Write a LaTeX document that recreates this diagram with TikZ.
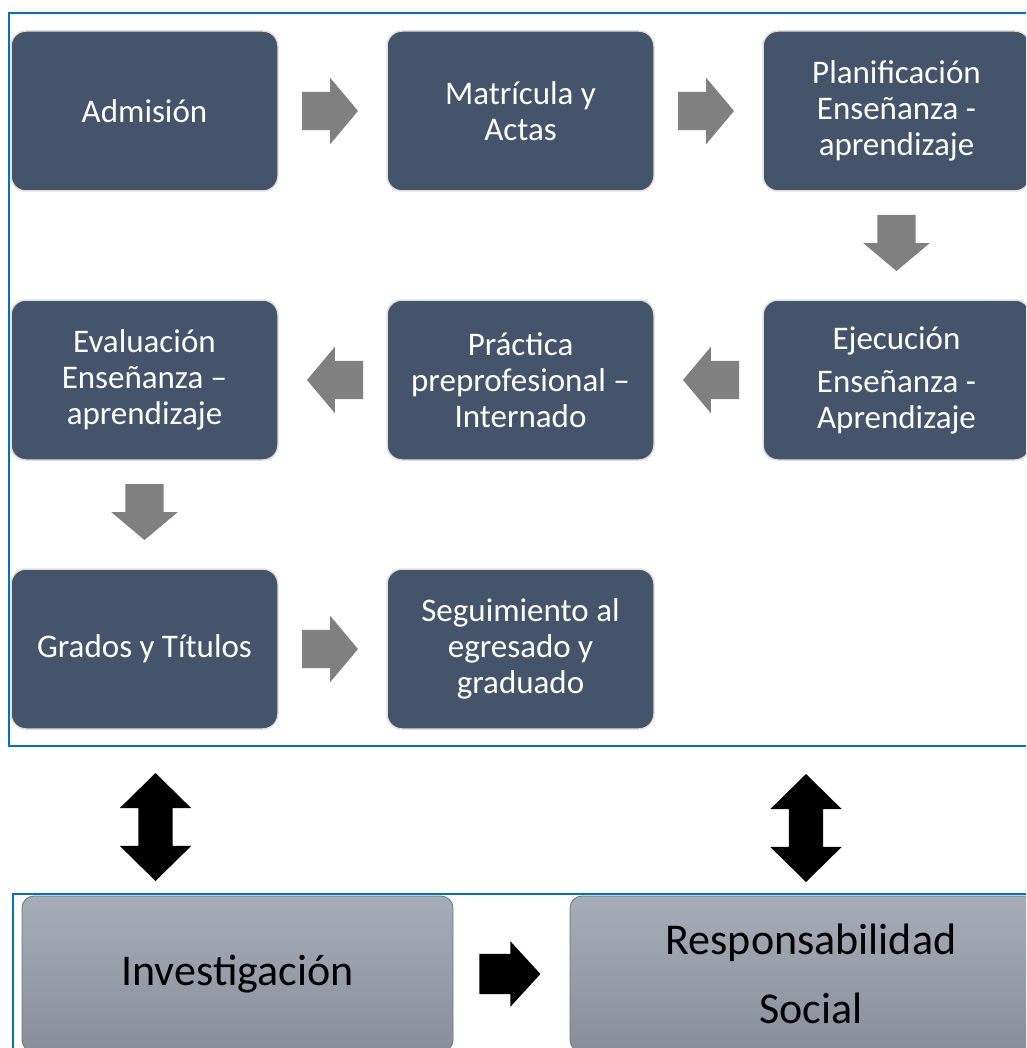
\documentclass[tikz,border=0pt]{standalone}
\usepackage{fontspec}
\setmainfont{Carlito}
\usetikzlibrary{positioning,shapes.arrows,calc}
\definecolor{boxcol}{HTML}{44546A}
\definecolor{framecol}{HTML}{0070C0}
\definecolor{arrcol}{HTML}{808080}
\definecolor{ejetop}{HTML}{A7ADB7}
\definecolor{ejebot}{HTML}{898E9A}
\begin{document}
\begin{tikzpicture}[x=1pt, y=-1pt, node distance=109pt,
  proc/.style={draw=gray!25, line width=1.5pt, fill=boxcol, rounded corners=15pt,
    minimum width=267pt, minimum height=160pt, outer sep=0pt, text=white,
    align=center, font=\fontsize{33}{36}\selectfont},
  eje/.style={draw=black!55, line width=0.8pt, top color=ejetop, bottom color=ejebot,
    rounded corners=12pt, minimum height=156pt, align=center,
    font=\fontsize{44}{69}\selectfont},
  garrow/.style={single arrow, fill=arrcol, inner xsep=0pt, inner ysep=19pt, outer sep=0pt,
    minimum height=56pt, single arrow head extend=14pt,
    single arrow tip angle=100, anchor=tail},
  barrow/.style={single arrow, fill=black, inner xsep=0pt, inner ysep=20pt, outer sep=0pt,
    minimum height=61pt, single arrow head extend=12.5pt,
    single arrow tip angle=95, anchor=tail},
  darrow/.style={double arrow, fill=black, inner xsep=0pt, inner ysep=17pt, outer sep=0pt,
    minimum height=108pt, double arrow head extend=18.5pt,
    double arrow tip angle=91, rotate=90}]
\useasboundingbox (0,0) rectangle (1026,1048);
\clip (0,0) rectangle (1026,1048);
\fill[white] (0,0) rectangle (1026,1048);

% frames
\draw[framecol, line width=1.5pt] (9,13) rectangle (1040,746);
\draw[framecol, line width=1.5pt] (13,894) rectangle (1040,1060);

% process boxes
\node[proc] (adm) at (144.5,111) {Admisión};
\node[proc, right=of adm] (mat) {Matrícula y\\Actas};
\node[proc, right=of mat] (plan) {Planificación\\Enseñanza -\\aprendizaje};
\node[proc, below=of plan] (ejec) {Ejecución\\[7pt]Enseñanza -\\Aprendizaje};
\node[proc, left=of ejec] (prac) {Práctica\\preprofesional –\\Internado};
\node[proc, left=of prac] (eval) {Evaluación\\Enseñanza –\\aprendizaje};
\node[proc, below=of eval] (grad) {Grados y Títulos};
\node[proc, right=of grad] (seg) {Seguimiento al\\egresado y\\graduado};

% gray arrows
\node[garrow] (g1) at ($(adm.east)!24pt!(mat.west)$) {};
\node[garrow] (g2) at ($(mat.east)!24pt!(plan.west)$) {};
\node[garrow, rotate=-90] (g3) at ($(plan.south)!24pt!(ejec.north)$) {};
\node[garrow, rotate=180] (g4) at ($(ejec.west)!24pt!(prac.east)$) {};
\node[garrow, rotate=180] (g5) at ($(prac.west)!24pt!(eval.east)$) {};
\node[garrow, rotate=-90] (g6) at ($(eval.south)!24pt!(grad.north)$) {};
\node[garrow] (g7) at ($(grad.east)!24pt!(seg.west)$) {};

% axes
\node[eje, minimum width=431pt] (inv) at (237.5,974) {Investigación};
\node[eje, minimum width=482pt] (resp) at (811,974) {Responsabilidad\\Social};
\node[barrow] (b1) at ($(inv.east)!26pt!(resp.west)$) {};

% links
\node[darrow] (d1) at (155.5,827) {};
\node[darrow] (d2) at (806,828) {};
\end{tikzpicture}
\end{document}
